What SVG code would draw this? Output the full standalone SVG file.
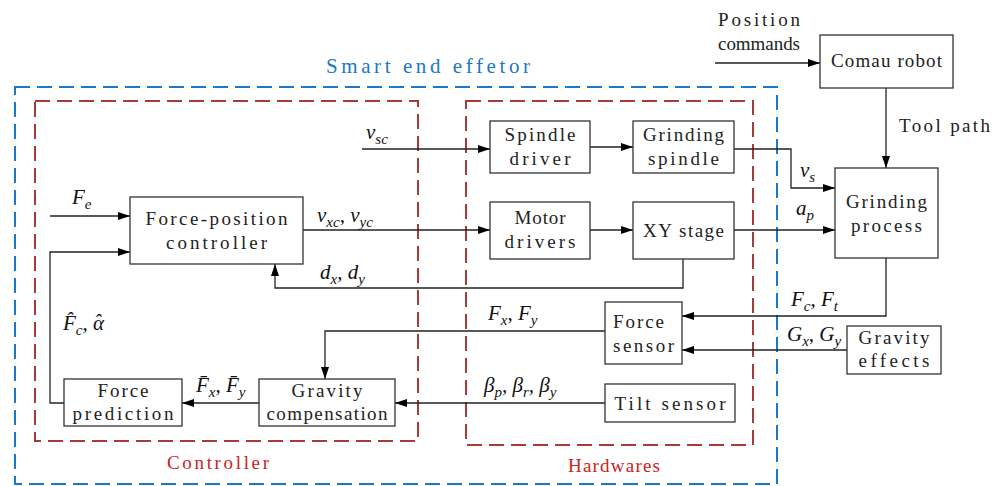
<svg xmlns="http://www.w3.org/2000/svg" width="1005" height="486" viewBox="0 0 1005 486">
<defs>
<marker id="arr" viewBox="0 0 12 8" refX="12" refY="4" markerWidth="12" markerHeight="8" markerUnits="userSpaceOnUse" orient="auto">
<path d="M0,0 L12,4 L0,8 Z" fill="#000"/>
</marker>
</defs>
<style>
.box{fill:#fff;stroke:#333;stroke-width:1.3}
.t{font-family:"Liberation Serif",serif;font-size:19px;fill:#222;text-anchor:middle}
.ts{font-family:"Liberation Serif",serif;font-size:19px;fill:#222}
.m{font-family:"Liberation Serif",serif;font-style:italic;font-size:21px;fill:#111}
.sub{font-size:15px}
.c{fill:none;stroke:#222;stroke-width:1.3}
.ca{fill:none;stroke:#222;stroke-width:1.3;marker-end:url(#arr)}
.blue{fill:none;stroke:#1a78c8;stroke-width:2;stroke-dasharray:15 7}
.red{fill:none;stroke:#a83a3a;stroke-width:2;stroke-dasharray:15 7}
.lblb{font-family:"Liberation Serif",serif;font-size:21px;fill:#1a78c8;text-anchor:middle}
.lblr{font-family:"Liberation Serif",serif;font-size:19px;fill:#cc2222;text-anchor:middle}
</style>

<g id="frames">
<rect class="blue" x="15" y="87" width="762" height="397"/>
<rect class="red" x="35" y="101" width="383" height="340"/>
<rect class="red" x="466" y="101" width="287" height="344"/>
<text class="lblb" x="428" y="73" textLength="204" lengthAdjust="spacing">Smart end effetor</text>
<text class="lblr" x="218" y="469" textLength="102" lengthAdjust="spacing">Controller</text>
<text class="lblr" x="614" y="472" textLength="92" lengthAdjust="spacing">Hardwares</text>
</g>

<g id="connectors">
<path class="ca" d="M715,63 H820"/>
<path class="ca" d="M886,88 V168"/>
<path class="ca" d="M362,149 H490"/>
<path class="ca" d="M590,147 H633"/>
<path class="ca" d="M734,149 H791 V188 H835"/>
<path class="ca" d="M50,216 H130"/>
<path class="ca" d="M64,403 H50 V252 H130"/>
<path class="ca" d="M303,230 H490"/>
<path class="ca" d="M590,230 H633"/>
<path class="ca" d="M734,230 H835"/>
<path class="ca" d="M683,259 V288 H275 V264"/>
<path class="ca" d="M886,258 V316 H682"/>
<path class="ca" d="M847,350 H682"/>
<path class="ca" d="M605,331 H325 V379"/>
<path class="ca" d="M605,403 H395"/>
<path class="ca" d="M259,403 H182"/>
</g>

<g id="labels">
<text class="ts" x="718" y="26" textLength="82" lengthAdjust="spacing">Position</text>
<text class="ts" x="718" y="50" textLength="82" lengthAdjust="spacing">commands</text>
<text class="ts" x="899" y="132" textLength="91" lengthAdjust="spacing">Tool path</text>
<text class="m" x="366" y="139">v<tspan class="sub" dy="5">sc</tspan></text>
<text class="m" x="72" y="204">F<tspan class="sub" dy="5">e</tspan></text>
<text class="m" x="317" y="222">v<tspan class="sub" dy="5">xc</tspan><tspan dy="-5">, v</tspan><tspan class="sub" dy="5">yc</tspan></text>
<text class="m" x="320" y="279">d<tspan class="sub" dy="5">x</tspan><tspan dy="-5">, d</tspan><tspan class="sub" dy="5">y</tspan></text>
<text class="m" x="800" y="177">v<tspan class="sub" dy="5">s</tspan></text>
<text class="m" x="796" y="215">a<tspan class="sub" dy="5">p</tspan></text>
<text class="m" x="791" y="306">F<tspan class="sub" dy="5">c</tspan><tspan dy="-5">, F</tspan><tspan class="sub" dy="5">t</tspan></text>
<text class="m" x="787" y="341">G<tspan class="sub" dy="5">x</tspan><tspan dy="-5">, G</tspan><tspan class="sub" dy="5">y</tspan></text>
<text class="m" x="488" y="320">F<tspan class="sub" dy="5">x</tspan><tspan dy="-5">, F</tspan><tspan class="sub" dy="5">y</tspan></text>
<text class="m" x="484" y="392">β<tspan class="sub" dy="5">p</tspan><tspan dy="-5">, β</tspan><tspan class="sub" dy="5">r</tspan><tspan dy="-5">, β</tspan><tspan class="sub" dy="5">y</tspan></text>
<text class="m" x="63" y="330">F̂<tspan class="sub" dy="5">c</tspan><tspan dy="-5">, α</tspan><tspan dx="-10" dy="-1">ˆ</tspan></text>
<text class="m" x="196" y="392">F̄<tspan class="sub" dy="5">x</tspan><tspan dy="-5">, F̄</tspan><tspan class="sub" dy="5">y</tspan></text>
</g>

<g id="comau-robot"><rect class="box" x="820" y="35" width="133" height="53"/><text class="t" x="886.5" y="67" textLength="111" lengthAdjust="spacing">Comau robot</text></g>
<g id="force-position-controller"><rect class="box" x="130" y="197" width="173" height="67"/><text class="t" x="216.5" y="225" textLength="142" lengthAdjust="spacing">Force-position</text><text class="t" x="216.5" y="249" textLength="101" lengthAdjust="spacing">controller</text></g>
<g id="spindle-driver"><rect class="box" x="490" y="121" width="100" height="52"/><text class="t" x="540" y="141" textLength="71" lengthAdjust="spacing">Spindle</text><text class="t" x="540" y="165" textLength="61" lengthAdjust="spacing">driver</text></g>
<g id="grinding-spindle"><rect class="box" x="633" y="121" width="101" height="52"/><text class="t" x="683.5" y="141" textLength="81" lengthAdjust="spacing">Grinding</text><text class="t" x="683.5" y="165" textLength="71" lengthAdjust="spacing">spindle</text></g>
<g id="motor-drivers"><rect class="box" x="490" y="202" width="100" height="57"/><text class="t" x="540" y="224" textLength="51" lengthAdjust="spacing">Motor</text><text class="t" x="540" y="248" textLength="71" lengthAdjust="spacing">drivers</text></g>
<g id="xy-stage"><rect class="box" x="633" y="202" width="101" height="57"/><text class="t" x="683.5" y="237" textLength="81" lengthAdjust="spacing">XY stage</text></g>
<g id="grinding-process"><rect class="box" x="835" y="168" width="103" height="90"/><text class="t" x="886.5" y="208" textLength="81" lengthAdjust="spacing">Grinding</text><text class="t" x="886.5" y="232" textLength="71" lengthAdjust="spacing">process</text></g>
<g id="force-sensor"><rect class="box" x="605" y="302" width="77" height="62"/><text class="ts" x="613" y="328" textLength="51" lengthAdjust="spacing">Force</text><text class="ts" x="613" y="352" textLength="61" lengthAdjust="spacing">sensor</text></g>
<g id="gravity-effects"><rect class="box" x="847" y="326" width="94" height="48"/><text class="t" x="894" y="344" textLength="71" lengthAdjust="spacing">Gravity</text><text class="t" x="894" y="367" textLength="71" lengthAdjust="spacing">effects</text></g>
<g id="tilt-sensor"><rect class="box" x="605" y="384" width="130" height="38"/><text class="t" x="670" y="410" textLength="111" lengthAdjust="spacing">Tilt sensor</text></g>
<g id="force-prediction"><rect class="box" x="64" y="379" width="118" height="47"/><text class="t" x="123" y="397" textLength="51" lengthAdjust="spacing">Force</text><text class="t" x="123" y="420" textLength="101" lengthAdjust="spacing">prediction</text></g>
<g id="gravity-compensation"><rect class="box" x="259" y="379" width="136" height="47"/><text class="t" x="327" y="397" textLength="71" lengthAdjust="spacing">Gravity</text><text class="t" x="327" y="420" textLength="121" lengthAdjust="spacing">compensation</text></g>
</svg>
